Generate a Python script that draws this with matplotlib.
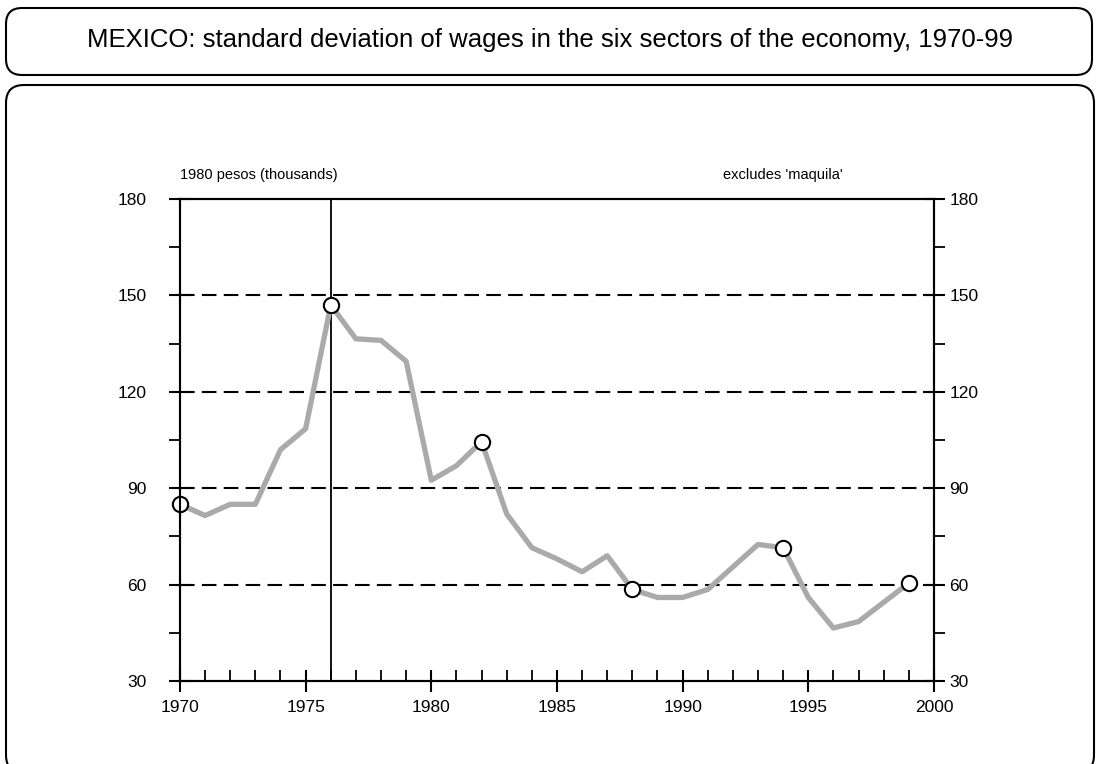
import matplotlib.pyplot as plt
from matplotlib.patches import FancyBboxPatch
from matplotlib.ticker import MultipleLocator

plt.rcParams['font.family'] = ['Liberation Sans', 'DejaVu Sans']

# standard deviation of wages, 1980 pesos (thousands)
years = list(range(1970, 2000))
values = [85, 81.5, 85, 85, 102, 108.5, 147, 136.5, 136, 129.5,
          92.5, 97, 104.5, 82, 71.5, 68, 64, 69, 58.5, 56,
          56, 58.5, 65.5, 72.5, 71.5, 56, 46.5, 48.5, 54.5, 60.5]
marker_years = [1970, 1976, 1982, 1988, 1994, 1999]
marker_values = [values[years.index(y)] for y in marker_years]
grid_levels = [60, 90, 120, 150]
vline_year = 1976

fig = plt.figure(figsize=(10.98, 7.64), dpi=100)

# background frames (pixel coordinates)
bg = fig.add_axes([0, 0, 1, 1], zorder=-1)
bg.set_xlim(0, 1098)
bg.set_ylim(764, 0)
bg.axis('off')
bg.add_patch(FancyBboxPatch((6, 8), 1086, 67, boxstyle='round,pad=0,rounding_size=16',
                            fc='white', ec='black', lw=1.5))
bg.add_patch(FancyBboxPatch((6, 85), 1088, 688, boxstyle='round,pad=0,rounding_size=18',
                            fc='white', ec='black', lw=1.5))
bg.text(550, 40, 'MEXICO: standard deviation of wages in the six sectors of the economy, 1970-99',
        ha='center', va='center', fontsize=18.5)

ax = fig.add_axes([0.1639, 0.1086, 0.6867, 0.6309])
ax.set_xlim(1970, 2000)
ax.set_ylim(30, 180)

for lv in grid_levels:
    ax.axhline(lv, color='black', lw=1.5, dashes=(7, 3.5), zorder=1)
ax.axvline(vline_year, color='black', lw=1.3, zorder=1)

ax.plot(years, values, color='#aaaaaa', lw=3.8, zorder=2)
ax.plot(marker_years, marker_values, 'o', ms=11, mfc='white', mec='black', mew=1.5,
        zorder=3, clip_on=False)

ax2 = ax.twinx()
ax2.set_ylim(ax.get_ylim())

ax.xaxis.set_major_locator(MultipleLocator(5))
ax.xaxis.set_minor_locator(MultipleLocator(1))
for a in (ax, ax2):
    a.yaxis.set_major_locator(MultipleLocator(30))
    a.yaxis.set_minor_locator(MultipleLocator(15))
    for s in a.spines.values():
        s.set_linewidth(1.5)

ax.tick_params(axis='both', which='major', direction='inout', length=16, width=1.5, labelsize=12.5)
ax.tick_params(axis='x', which='minor', direction='in', length=8, width=1.3)
ax.tick_params(axis='y', which='minor', direction='out', length=8, width=1.3)
ax.tick_params(axis='y', which='major', pad=16)
ax.tick_params(axis='x', which='major', pad=6)
ax2.tick_params(axis='y', which='major', direction='inout', length=16, width=1.5,
                labelsize=12.5, pad=3)
ax2.tick_params(axis='y', which='minor', direction='out', length=8, width=1.3)

ax.text(0.105, 1.035, '1980 pesos (thousands)', transform=ax.transAxes,
        ha='center', va='bottom', fontsize=10.5)
ax.text(0.8, 1.035, "excludes 'maquila'", transform=ax.transAxes,
        ha='center', va='bottom', fontsize=10.5)

fig.savefig('out.png', dpi=100)
